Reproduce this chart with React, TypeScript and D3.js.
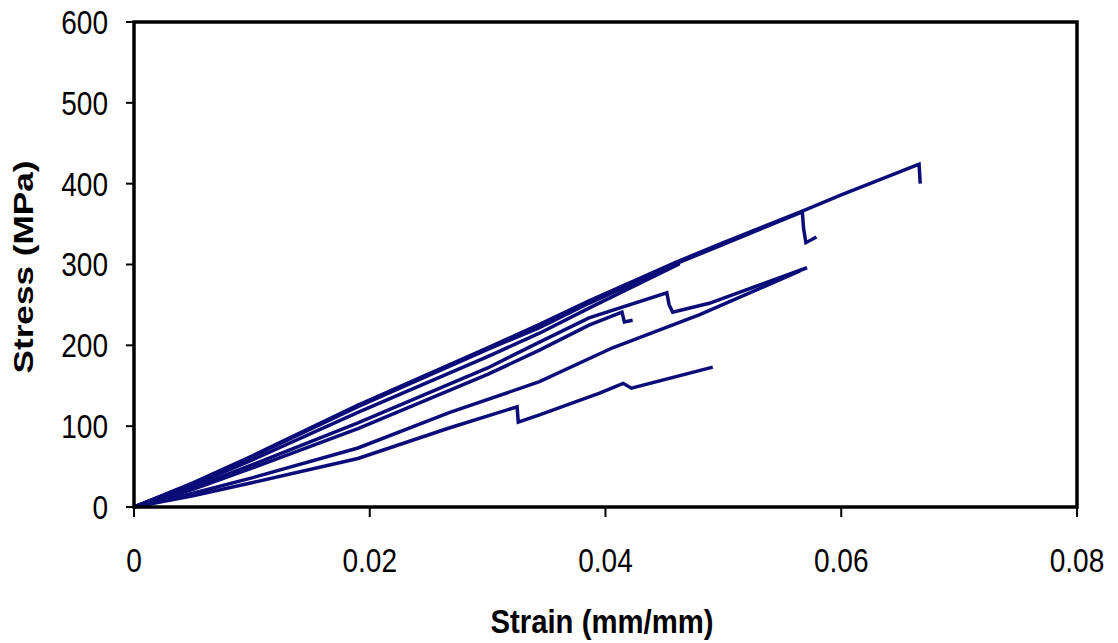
import React from "react";
import * as d3 from "d3";

const xTicks = [0, 0.02, 0.04, 0.06, 0.08];
const xTickLabels = ["0", "0.02", "0.04", "0.06", "0.08"];
const yTicks = [0, 100, 200, 300, 400, 500, 600];
const yTickLabels = ["0", "100", "200", "300", "400", "500", "600"];

// [strain, stress] per specimen
const specimenA: [number, number][] = [
  [0, 0], [0.005, 30], [0.01, 63], [0.019, 126], [0.03, 197], [0.0344, 226], [0.0386, 255],
  [0.046, 303], [0.05, 327], [0.0567, 366], [0.06, 386], [0.0664, 423], [0.0666, 424], [0.0667, 400],
];
const specimenB: [number, number][] = [
  [0, 0], [0.005, 29], [0.01, 62], [0.019, 124], [0.03, 195], [0.0344, 222], [0.0386, 252],
  [0.046, 301], [0.05, 325], [0.0567, 365], [0.0568, 345], [0.0570, 327], [0.0579, 334],
];
const specimenE: [number, number][] = [
  [0, 0], [0.005, 27], [0.01, 58], [0.019, 117], [0.03, 186], [0.0344, 215], [0.0386, 246],
  [0.0463, 301],
];
const specimenD: [number, number][] = [
  [0, 0], [0.005, 24], [0.01, 52], [0.019, 104], [0.03, 172], [0.0344, 204], [0.0386, 234],
  [0.0452, 265], [0.0454, 250], [0.0457, 241], [0.0488, 252], [0.0571, 296],
];
const specimenF: [number, number][] = [
  [0, 0], [0.005, 22], [0.01, 48], [0.019, 97], [0.03, 164], [0.0344, 194], [0.0386, 225],
  [0.0414, 241], [0.0416, 229], [0.0423, 231],
];
const specimenC: [number, number][] = [
  [0, 0], [0.005, 17], [0.01, 36], [0.019, 73], [0.0268, 117], [0.0344, 155], [0.0406, 197],
  [0.048, 238], [0.0565, 292],
];
const specimenG: [number, number][] = [
  [0, 0], [0.005, 14], [0.01, 30], [0.019, 60], [0.0268, 98], [0.0325, 124], [0.0326, 105],
  [0.0344, 114], [0.0395, 141], [0.0415, 153], [0.0422, 147], [0.0491, 173],
];

const allSpecimens = [specimenA, specimenB, specimenE, specimenD, specimenF, specimenC, specimenG];

export default function App() {
  const W = 1118, H = 643;
  const left = 134, right = 1077, top = 22, bottom = 507;
  const x = d3.scaleLinear().domain([0, 0.08]).range([left, right]);
  const y = d3.scaleLinear().domain([0, 600]).range([bottom, top]);
  const line = d3.line<[number, number]>().x(d => x(d[0])).y(d => y(d[1]));
  const lineColor = "#0c0c78";
  const font = "'Liberation Sans', Arial, sans-serif";
  const sx = 0.85;

  return (
    <svg width={W} height={H} style={{ position: "absolute", left: 0, top: 0, background: "#fff" }}>
      <rect x={0} y={0} width={W} height={H} fill="#fff" />
      {allSpecimens.map((s, i) => (
        <path key={i} d={line(s) || ""} fill="none" stroke={lineColor} strokeWidth={3.5} strokeLinejoin="miter" />
      ))}
      {/* plot frame */}
      <rect x={left} y={top} width={right - left} height={bottom - top} fill="none" stroke="#000" strokeWidth={3.5} />
      {/* y ticks */}
      {yTicks.map((t, i) => (
        <g key={"y" + i}>
          <line x1={left - 8} x2={left} y1={y(t)} y2={y(t)} stroke="#000" strokeWidth={2} />
          <text x={108 / sx} y={y(t) + 12} textAnchor="end" fontFamily={font} fontSize={33} fill="#000"
            transform={`scale(${sx},1)`}>{yTickLabels[i]}</text>
        </g>
      ))}
      {/* x ticks */}
      {xTicks.map((t, i) => (
        <g key={"x" + i}>
          <line x1={x(t)} x2={x(t)} y1={bottom} y2={bottom + 10} stroke="#000" strokeWidth={2} />
          <text x={x(t) / sx} y={572} textAnchor="middle" fontFamily={font} fontSize={33} fill="#000"
            transform={`scale(${sx},1)`}>{xTickLabels[i]}</text>
        </g>
      ))}
      <text x={602} y={633} textAnchor="middle" fontFamily={font} fontWeight="bold" fontSize={33}
        textLength={223} lengthAdjust="spacingAndGlyphs" fill="#000">Strain (mm/mm)</text>
      <text transform={`translate(33,267) rotate(-90)`} textAnchor="middle" fontFamily={font}
        fontWeight="bold" fontSize={28} textLength={213} lengthAdjust="spacingAndGlyphs" fill="#000">Stress (MPa)</text>
    </svg>
  );
}
